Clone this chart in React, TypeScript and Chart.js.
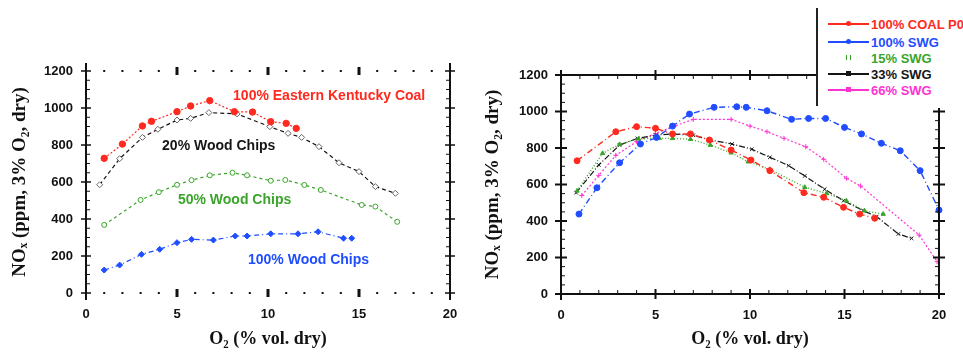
import React, { useEffect, useRef } from "react";
import { Chart, registerables } from "chart.js";
Chart.register(...registerables);

// ---------- shared ticks ----------
const xTickValues = [0, 5, 10, 15, 20];
const yTickValues = [0, 200, 400, 600, 800, 1000, 1200];

// ---------- left chart data ----------
const leftCoalX = [1.0, 2.0, 3.1, 3.6, 5.0, 5.75, 6.8, 8.15, 9.15, 10.15, 11.0, 11.55];
const leftCoalY = [728, 805, 903, 928, 980, 1011, 1040, 980, 978, 926, 917, 890];
const leftWood20X = [0.75, 1.85, 3.1, 3.95, 5.0, 5.75, 6.75, 8.3, 10.1, 11.1, 11.85, 12.8, 13.9, 15.0, 15.9, 17.0];
const leftWood20Y = [585, 726, 841, 885, 935, 944, 975, 968, 899, 863, 841, 791, 704, 656, 575, 539];
const leftWood50X = [1.0, 3.0, 4.0, 5.0, 5.8, 6.8, 8.05, 8.85, 10.15, 10.95, 12.0, 12.9, 15.15, 15.9, 17.1];
const leftWood50Y = [368, 503, 545, 585, 610, 636, 650, 636, 607, 611, 584, 557, 476, 467, 385];
const leftWood100X = [1.0, 1.85, 3.05, 4.05, 5.0, 5.8, 7.0, 8.2, 8.85, 10.15, 11.65, 12.75, 14.15, 14.6];
const leftWood100Y = [124, 151, 209, 236, 272, 290, 286, 308, 308, 320, 320, 331, 296, 296];

const leftLabels = ["100% Eastern Kentucky Coal", "20% Wood Chips", "50% Wood Chips", "100% Wood Chips"];
const leftLabelX = [8.08, 4.18, 5.05, 8.9];
const leftLabelY = [1066, 796, 503, 175];

// ---------- right chart data ----------
const rCoalX = [0.85, 2.9, 4.0, 5.0, 5.9, 6.85, 7.85, 9.0, 10.05, 11.05, 12.85, 13.9, 14.95, 15.8, 16.6];
const rCoalY = [730, 889, 917, 908, 877, 877, 844, 789, 734, 676, 555, 530, 475, 438, 415];
const rSwg100X = [0.95, 1.9, 3.1, 4.2, 5.05, 5.9, 6.8, 8.1, 9.3, 9.8, 10.9, 12.2, 13.1, 14.0, 15.0, 15.9, 16.95, 17.95, 19.0, 20.0];
const rSwg100Y = [438, 582, 719, 822, 858, 920, 986, 1023, 1026, 1023, 1004, 957, 962, 962, 913, 877, 826, 785, 676, 460];
const rSwg15X = [0.85, 2.2, 3.1, 4.1, 5.2, 5.9, 6.85, 7.9, 9.0, 9.9, 11.05, 12.9, 14.05, 15.1, 16.05, 17.05];
const rSwg15Y = [565, 771, 820, 850, 853, 853, 848, 816, 774, 725, 683, 585, 551, 511, 456, 438];
const rSwg33X = [0.8, 2.0, 3.1, 4.05, 5.05, 5.9, 7.0, 7.9, 9.05, 10.1, 11.05, 12.05, 12.9, 13.95, 14.95, 16.0, 16.7, 17.85, 18.55];
const rSwg33Y = [555, 707, 816, 853, 871, 877, 870, 844, 822, 793, 749, 703, 647, 574, 511, 456, 424, 329, 305];
const rSwg66X = [1.1, 2.0, 2.9, 4.0, 5.0, 6.0, 7.0, 9.0, 10.0, 10.9, 11.8, 12.95, 13.9, 15.1, 15.85, 18.95, 19.9];
const rSwg66Y = [540, 650, 760, 835, 880, 920, 957, 957, 920, 889, 853, 807, 738, 634, 592, 323, 177];

const rightNames = ["100% COAL P0", "100% SWG", "15% SWG", "33% SWG", "66% SWG"];

const RED = "#ff2a1f";
const BLUE = "#1f4dff";
const GREEN = "#3aa52a";
const BLACK = "#151515";
const MAGENTA = "#ff33d2";

const pts = (xs: number[], ys: number[]) => xs.map((x, i) => ({ x, y: ys[i] }));

const tickFont = { family: "'Liberation Sans', Arial, sans-serif", size: 13, weight: "bold" as const };
const xTitleFont = { family: "'Liberation Serif', 'DejaVu Serif', serif", size: 18, weight: "bold" as const };
const yTitleFont = { family: "'Liberation Serif', 'DejaVu Serif', serif", size: 19, weight: "bold" as const };

// ---------- plugins ----------
const framePlugin = {
  id: "frame",
  afterDraw(chart: any, _args: any, opts: any) {
    const { ctx } = chart;
    const { left, right, top, bottom } = chart.chartArea;
    const xs = chart.scales.x;
    const ys = chart.scales.y;
    ctx.save();
    ctx.strokeStyle = "#111";
    ctx.fillStyle = "#111";
    ctx.lineCap = "butt";
    const line = (x1: number, y1: number, x2: number, y2: number, w: number) => {
      ctx.lineWidth = w;
      ctx.beginPath();
      ctx.moveTo(x1, y1);
      ctx.lineTo(x2, y2);
      ctx.stroke();
    };
    if (opts.style === "dotted") {
      line(left, top - 8, left, bottom + 7, 2);
      line(right, top - 8, right, bottom + 7, 2);
      for (let i = 1; i < 20; i++) {
        const px = xs.getPixelForValue(i);
        if (i % 5 === 0) {
          ctx.fillRect(px - 1.5, top - 4, 3, 8);
          ctx.fillRect(px - 1.5, bottom - 4, 3, 8);
        } else {
          ctx.fillRect(px - 1, top - 1, 2, 2);
          ctx.fillRect(px - 1, bottom - 1, 2, 2);
        }
      }
      for (let v = 0; v <= 1200; v += 50) {
        const py = ys.getPixelForValue(v);
        if (v % 200 === 0) {
          line(left - 5, py, left + 5, py, 1.5);
          line(right - 5, py, right + 5, py, 1.5);
        } else {
          line(left, py, left + 4, py, 1);
          line(right - 4, py, right, py, 1);
        }
      }
    } else {
      const topEnd = opts.topEnd;
      const rightTop = opts.rightTop;
      line(left, top - 1, left, bottom + 6, 2);
      line(left - 5, bottom, right + 5, bottom, 2);
      line(left - 5, top, topEnd, top, 2);
      line(right, rightTop, right, bottom, 2);
      for (let i = 0; i <= 20; i++) {
        const px = xs.getPixelForValue(i);
        if (i % 5 === 0) {
          line(px, bottom - 5, px, bottom + 5, 2);
          if (px <= topEnd) line(px, top - 5, px, top + 5, 2);
        } else {
          line(px, bottom - 4, px, bottom, 1);
          if (px <= topEnd) line(px, top, px, top + 4, 1);
        }
      }
      for (let v = 0; v <= 1200; v += 50) {
        const py = ys.getPixelForValue(v);
        if (v % 200 === 0) {
          line(left - 6, py, left + 6, py, 2);
          if (py >= rightTop) line(right - 6, py, right + 6, py, 2);
        } else {
          line(left, py, left + 4, py, 1);
          if (py >= rightTop) line(right - 4, py, right, py, 1);
        }
      }
    }
    ctx.restore();
  },
};

const notePlugin = {
  id: "notes",
  afterDatasetsDraw(chart: any, _args: any, opts: any) {
    if (!opts || !opts.items) return;
    const { ctx } = chart;
    ctx.save();
    ctx.font = "bold 14px 'Liberation Sans', Arial, sans-serif";
    ctx.textAlign = "left";
    ctx.textBaseline = "middle";
    opts.items.forEach((it: any) => {
      ctx.fillStyle = it.color;
      ctx.fillText(it.text, chart.scales.x.getPixelForValue(it.x), chart.scales.y.getPixelForValue(it.y));
    });
    ctx.restore();
  },
};

function makeScales(yWidth: number, xHeight: number, yTitlePad: number) {
  return {
    x: {
      type: "linear" as const,
      min: 0,
      max: 20,
      grid: { display: false, drawTicks: false },
      border: { display: false },
      afterBuildTicks: (s: any) => {
        s.ticks = xTickValues.map((v) => ({ value: v }));
      },
      ticks: { font: tickFont, color: "#111", padding: 14, maxRotation: 0, callback: (v: any) => String(v) },
      title: {
        display: true,
        text: "O₂ (% vol. dry)",
        font: xTitleFont,
        color: "#111",
        padding: { top: 0, bottom: 5 },
      },
      afterFit: (s: any) => {
        s.height = xHeight;
      },
    },
    y: {
      type: "linear" as const,
      min: 0,
      max: 1200,
      grid: { display: false, drawTicks: false },
      border: { display: false },
      afterBuildTicks: (s: any) => {
        s.ticks = yTickValues.map((v) => ({ value: v }));
      },
      ticks: { font: tickFont, color: "#111", padding: 13, callback: (v: any) => String(v) },
      title: {
        display: true,
        text: "NOₓ (ppm, 3% O₂, dry)",
        font: yTitleFont,
        color: "#111",
        padding: { top: yTitlePad, bottom: 0 },
      },
      afterFit: (s: any) => {
        s.width = yWidth;
      },
    },
  };
}

function ds(label: string, xs: number[], ys: number[], color: string, extra: any) {
  return {
    label,
    data: pts(xs, ys),
    borderColor: color,
    backgroundColor: color,
    pointBorderColor: color,
    pointBackgroundColor: color,
    borderWidth: 1.2,
    pointRadius: 3,
    pointBorderWidth: 1,
    tension: 0,
    clip: false,
    ...extra,
  };
}

function leftConfig(): any {
  return {
    type: "line",
    data: {
      datasets: [
        ds("100% Eastern Kentucky Coal", leftCoalX, leftCoalY, RED, { borderDash: [2, 2], pointStyle: "circle", pointRadius: 3.2 }),
        ds("20% Wood Chips", leftWood20X, leftWood20Y, BLACK, {
          borderDash: [4, 3],
          pointStyle: "rectRot",
          pointBackgroundColor: "#fff",
          pointBorderColor: "#666",
          pointRadius: 3,
        }),
        ds("50% Wood Chips", leftWood50X, leftWood50Y, GREEN, {
          borderDash: [3, 3],
          pointStyle: "circle",
          pointBackgroundColor: "#fff",
          pointRadius: 2.5,
        }),
        ds("100% Wood Chips", leftWood100X, leftWood100Y, BLUE, { borderDash: [5, 3, 1, 3], pointStyle: "rectRot", pointRadius: 3 }),
      ],
    },
    options: {
      animation: false,
      responsive: false,
      layout: { padding: { left: 0, top: 71, right: 30, bottom: 0 } },
      plugins: {
        legend: { display: false },
        tooltip: { enabled: false },
        frame: { style: "dotted" },
        notes: {
          items: leftLabels.map((t, i) => ({
            text: t,
            x: leftLabelX[i],
            y: leftLabelY[i],
            color: [RED, BLACK, GREEN, BLUE][i],
          })),
        },
      },
      scales: makeScales(86, 62, 9),
    },
    plugins: [framePlugin, notePlugin],
  };
}

function rightConfig(): any {
  return {
    type: "line",
    data: {
      datasets: [
        ds(rightNames[0], rCoalX, rCoalY, RED, { borderDash: [6, 3, 1, 3], pointStyle: "circle", pointRadius: 3, borderWidth: 1.4 }),
        ds(rightNames[1], rSwg100X, rSwg100Y, BLUE, { borderDash: [6, 3, 1, 3], pointStyle: "circle", pointRadius: 3, borderWidth: 1.4 }),
        ds(rightNames[2], rSwg15X, rSwg15Y, GREEN, { borderDash: [1, 2], pointStyle: "triangle", pointRadius: 2.5, borderWidth: 1.4 }),
        ds(rightNames[3], rSwg33X, rSwg33Y, BLACK, { borderDash: [6, 2, 1, 2], pointStyle: "crossRot", pointRadius: 2.5, borderWidth: 1.2 }),
        ds(rightNames[4], rSwg66X, rSwg66Y, MAGENTA, { borderDash: [2, 2], pointStyle: "cross", pointRadius: 2.5, borderWidth: 1.2 }),
      ],
    },
    options: {
      animation: false,
      responsive: false,
      layout: { padding: { left: 0, top: 75, right: 24, bottom: 0 } },
      plugins: {
        legend: { display: false },
        tooltip: { enabled: false },
        frame: { style: "solid", topEnd: 337, rightTop: 108 },
      },
      scales: makeScales(81, 61, 2),
    },
    plugins: [framePlugin],
  };
}

function ChartCanvas({ left, width, build }: { left: number; width: number; build: () => any }) {
  const ref = useRef<HTMLCanvasElement | null>(null);
  useEffect(() => {
    if (!ref.current) return;
    const chart = new Chart(ref.current, build());
    return () => chart.destroy();
  }, [build]);
  return (
    <canvas
      ref={ref}
      width={width}
      height={355}
      style={{ position: "absolute", left, top: 0, width, height: 355 }}
    />
  );
}

const legendColors = [RED, BLUE, GREEN, BLACK, MAGENTA];
const legendRowY = [24, 42, 58, 74, 90];

function Legend() {
  return (
    <div
      style={{
        position: "absolute",
        left: 816,
        top: 8,
        width: 147,
        height: 98,
        background: "#fff",
        borderLeft: "2px solid #222",
      }}
    >
      {rightNames.map((name, i) => (
        <div
          key={name}
          style={{
            position: "absolute",
            left: 10,
            top: legendRowY[i] - 8 - 8,
            height: 16,
            display: "flex",
            alignItems: "center",
            whiteSpace: "nowrap",
          }}
        >
          <div style={{ position: "relative", width: 41, height: 16, marginRight: 2 }}>
            {i !== 2 && (
              <div
                style={{
                  position: "absolute",
                  left: 0,
                  top: 7,
                  width: 41,
                  height: 0,
                  borderTop: `2px solid ${legendColors[i]}`,
                }}
              />
            )}
            <div
              style={{
                position: "absolute",
                left: 18,
                top: 5,
                width: i === 2 ? 3 : 5,
                height: 5,
                borderRadius: i < 2 ? 3 : 0,
                background: i === 2 ? "transparent" : legendColors[i],
                borderLeft: i === 2 ? `1px solid ${GREEN}` : undefined,
                borderRight: i === 2 ? `1px solid ${GREEN}` : undefined,
              }}
            />
          </div>
          <span
            style={{
              font: "bold 13px 'Liberation Sans', Arial, sans-serif",
              color: legendColors[i],
            }}
          >
            {name}
          </span>
        </div>
      ))}
    </div>
  );
}

export default function App() {
  return (
    <div style={{ position: "absolute", left: 0, top: 0, width: 963, height: 355, background: "#fff", overflow: "hidden" }}>
      <ChartCanvas left={0} width={480} build={leftConfig} />
      <ChartCanvas left={480} width={483} build={rightConfig} />
      <Legend />
    </div>
  );
}
